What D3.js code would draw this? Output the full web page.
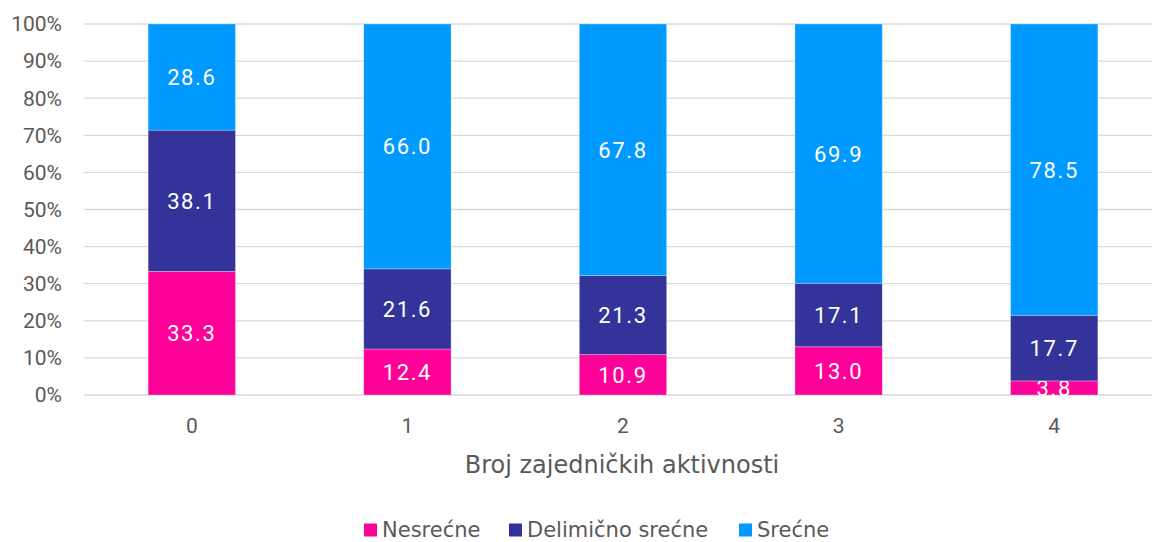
<!DOCTYPE html>
<html>
<head>
<meta charset="utf-8">
<script src="https://cdn.jsdelivr.net/npm/d3@7"></script>
<style>
  body { margin: 0; background: #fff; }
  svg { display: block; }
</style>
</head>
<body>
<div id="chart-container"></div>
<script>
// Chart data
const categories = ["0", "1", "2", "3", "4"];
const seriesNames = ["Nesrećne", "Delimično srećne", "Srećne"];
const nesrecne = [33.3, 12.4, 10.9, 13.0, 3.8];
const delimicno = [38.1, 21.6, 21.3, 17.1, 17.7];
const srecne = [28.6, 66.0, 67.8, 69.9, 78.5];
const yTicks = [0, 10, 20, 30, 40, 50, 60, 70, 80, 90, 100];
const colors = ["#FF0099", "#333399", "#0099FF"];
const xTitle = "Broj zajedničkih aktivnosti";

const width = 1152, height = 542;
const margin = { top: 24, right: -10, bottom: 147, left: 84 };

const rows = categories.map((c, i) => ({
    cat: c, s0: nesrecne[i], s1: delimicno[i], s2: srecne[i]
}));
const stack = d3.stack().keys(["s0", "s1", "s2"]);
const layers = stack(rows);

const svg = d3.select("#chart-container").append("svg")
    .attr("width", width)
    .attr("height", height);

const x = d3.scaleBand()
    .domain(categories)
    .range([margin.left, width - margin.right])
    .paddingInner(0.595)
    .paddingOuter(0.2975);

const y = d3.scaleLinear()
    .domain([0, 100])
    .range([height - margin.bottom, margin.top]);

// gridlines
svg.append("g")
    .selectAll("line")
    .data(yTicks)
    .enter().append("line")
    .attr("x1", margin.left)
    .attr("x2", width)
    .attr("y1", d => y(d))
    .attr("y2", d => y(d))
    .attr("stroke", "#d9d9d9")
    .attr("stroke-width", 1.3);

// y labels
svg.append("g")
    .selectAll("text")
    .data(yTicks)
    .enter().append("text")
    .attr("x", 62)
    .attr("y", d => y(d))
    .attr("dy", "0.35em")
    .attr("text-anchor", "end")
    .attr("font-family", "Roboto, sans-serif")
    .attr("font-size", 21)
    .attr("fill", "#595959")
    .text(d => d + "%");

// bars
const layer = svg.append("g")
    .selectAll("g")
    .data(layers)
    .enter().append("g")
    .attr("fill", (d, i) => colors[i]);

layer.selectAll("rect")
    .data(d => d)
    .enter().append("rect")
    .attr("x", d => x(d.data.cat))
    .attr("width", x.bandwidth())
    .attr("y", d => y(d[1]))
    .attr("height", d => y(d[0]) - y(d[1]))
    .attr("stroke", "rgba(255,255,255,0.35)")
    .attr("stroke-width", 0.8);

// value labels
layer.selectAll("text")
    .data(d => d)
    .enter().append("text")
    .attr("x", d => x(d.data.cat) + x.bandwidth() / 2)
    .attr("y", d => (y(d[0]) + y(d[1])) / 2)
    .attr("dy", "0.36em")
    .attr("text-anchor", "middle")
    .attr("font-family", "Roboto, sans-serif")
    .attr("font-size", 22)
    .attr("letter-spacing", "1.6px")
    .attr("fill", "#fff")
    .text(d => (d[1] - d[0]).toFixed(1));

// x labels
svg.append("g")
    .selectAll("text")
    .data(categories)
    .enter().append("text")
    .attr("x", d => x(d) + x.bandwidth() / 2)
    .attr("y", 426)
    .attr("dy", "0.35em")
    .attr("text-anchor", "middle")
    .attr("font-family", "Roboto, sans-serif")
    .attr("font-size", 21)
    .attr("fill", "#595959")
    .text(d => d);

// axis title
svg.append("text")
    .attr("x", 622)
    .attr("y", 465)
    .attr("dy", "0.35em")
    .attr("text-anchor", "middle")
    .attr("font-family", "'DejaVu Sans', sans-serif")
    .attr("font-size", 24)
    .attr("fill", "#595959")
    .text(xTitle);

// legend
const legendX = [364, 509, 739];
const legend = svg.selectAll(".legend")
    .data(seriesNames)
    .enter().append("g")
    .attr("class", "legend")
    .attr("transform", (d, i) => "translate(" + legendX[i] + ",530)");

legend.append("rect")
    .attr("x", 0)
    .attr("y", -6.5)
    .attr("width", 13)
    .attr("height", 13)
    .attr("fill", (d, i) => colors[i]);

legend.append("text")
    .attr("x", 18)
    .attr("y", 0)
    .attr("dy", "0.35em")
    .attr("font-family", "'DejaVu Sans', sans-serif")
    .attr("font-size", 21)
    .attr("fill", "#595959")
    .text(d => d);
</script>
</body>
</html>
